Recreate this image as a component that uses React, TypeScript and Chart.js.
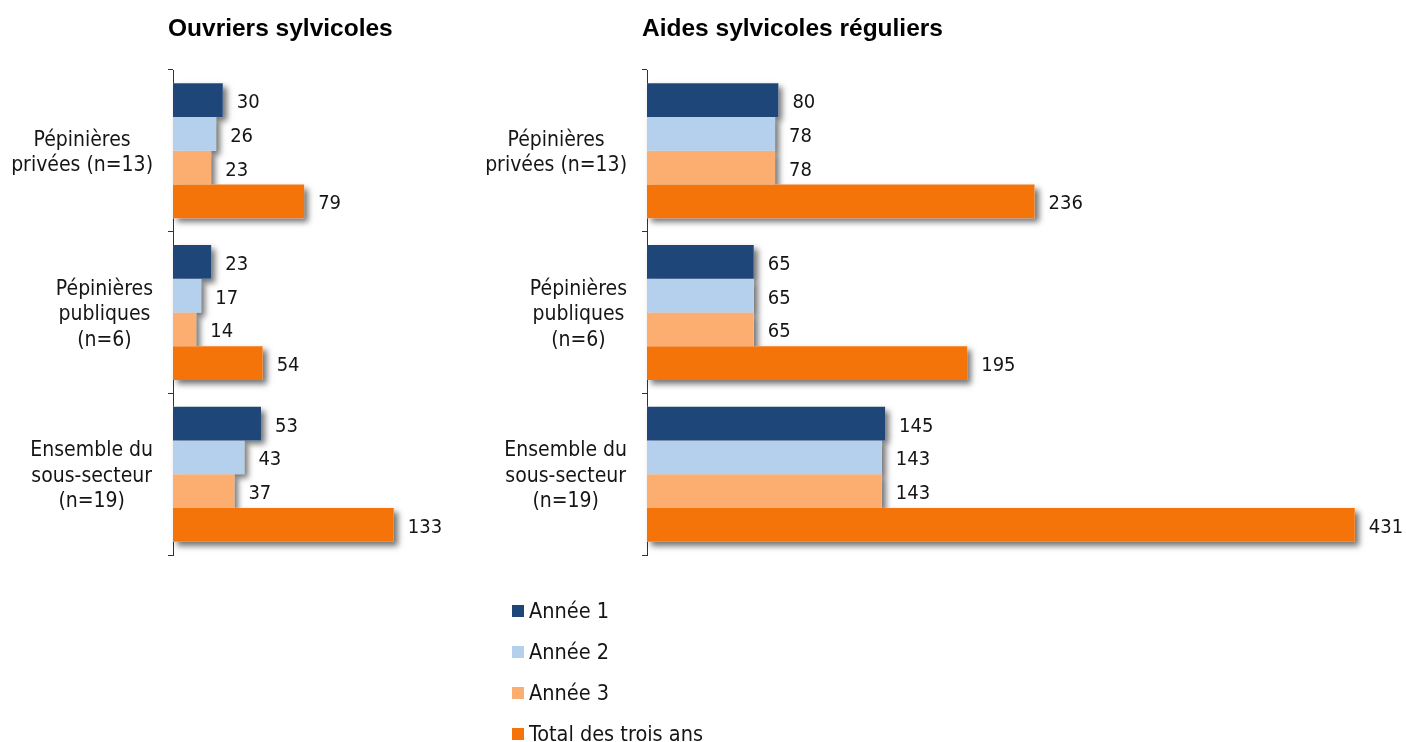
import React, { useEffect, useRef } from "react";
import { Chart, registerables } from "chart.js";

Chart.register(...registerables);

// Category labels (one array entry per line)
const categories: string[][] = [
  ["Pépinières", "privées (n=13)"],
  ["Pépinières", "publiques", "(n=6)"],
  ["Ensemble du", "sous-secteur", "(n=19)"],
];

const seriesNames = ["Année 1", "Année 2", "Année 3", "Total des trois ans"];
const seriesColors = ["#1F4678", "#B4D0EC", "#FCAE70", "#F5740A"];

// Ouvriers sylvicoles
const ouvriersAnnee1 = [30, 23, 53];
const ouvriersAnnee2 = [26, 17, 43];
const ouvriersAnnee3 = [23, 14, 37];
const ouvriersTotal = [79, 54, 133];

// Aides sylvicoles réguliers
const aidesAnnee1 = [80, 65, 145];
const aidesAnnee2 = [78, 65, 143];
const aidesAnnee3 = [78, 65, 143];
const aidesTotal = [236, 195, 431];

const FONT_FAMILY = '"DejaVu Sans Condensed", "DejaVu Sans", sans-serif';
const VALUE_FONT = `20px ${FONT_FAMILY}`;
const CATEGORY_FONT = `21px ${FONT_FAMILY}`;
const LEGEND_FONT = `21.5px ${FONT_FAMILY}`;
const TITLE_FONT = 'bold 24.5px "Liberation Sans", Arial, sans-serif';
const TEXT_COLOR = "#151515";
const AXIS_COLOR = "#333333";

// Draws bar shadows, value labels, category labels and the panel title
const panelPlugin = {
  id: "panelDecor",
  beforeDatasetsDraw(chart: any) {
    const ctx = chart.ctx as CanvasRenderingContext2D;
    ctx.save();
    ctx.shadowColor = "rgba(0,0,0,0.55)";
    ctx.shadowBlur = 6;
    ctx.shadowOffsetX = 4;
    ctx.shadowOffsetY = 4;
    ctx.fillStyle = "#ffffff";
    chart.data.datasets.forEach((_: any, di: number) => {
      const meta = chart.getDatasetMeta(di);
      if (meta.hidden) return;
      meta.data.forEach((bar: any) => {
        const { x, y, base, height } = bar.getProps(["x", "y", "base", "height"], true);
        ctx.fillRect(Math.min(x, base), y - height / 2, Math.abs(x - base), height);
      });
    });
    ctx.restore();
  },
  afterDatasetsDraw(chart: any) {
    const ctx = chart.ctx as CanvasRenderingContext2D;
    ctx.save();
    ctx.font = VALUE_FONT;
    ctx.fillStyle = TEXT_COLOR;
    ctx.textAlign = "left";
    ctx.textBaseline = "alphabetic";
    chart.data.datasets.forEach((ds: any, di: number) => {
      const meta = chart.getDatasetMeta(di);
      if (meta.hidden) return;
      meta.data.forEach((bar: any, i: number) => {
        const { x, y } = bar.getProps(["x", "y"], true);
        ctx.fillText(String(ds.data[i]), x + 14, y + 8);
      });
    });
    ctx.restore();
  },
  afterDraw(chart: any, _args: any, opts: any) {
    const ctx = chart.ctx as CanvasRenderingContext2D;
    const area = chart.chartArea;
    const yScale = chart.scales.y;
    ctx.save();
    // category labels: block right-aligned to the axis, lines centred inside the block
    ctx.font = CATEGORY_FONT;
    ctx.fillStyle = TEXT_COLOR;
    ctx.textAlign = "center";
    ctx.textBaseline = "alphabetic";
    const lineH = 25.5;
    categories.forEach((lines, i) => {
      const cy = yScale.getPixelForValue(i);
      const blockW = Math.max(...lines.map((l) => ctx.measureText(l).width));
      const right = area.left - 20;
      const cx = right - blockW / 2;
      lines.forEach((line, li) => {
        const by = cy + 7.5 + (li - (lines.length - 1) / 2) * lineH;
        ctx.fillText(line, cx, by);
      });
    });
    // panel title
    ctx.font = TITLE_FONT;
    ctx.fillStyle = "#000000";
    ctx.textAlign = "left";
    ctx.fillText(opts.title, area.left - 5, 36);
    ctx.restore();
  },
};

function makeConfig(values: number[][], max: number, title: string, padLeft: number, padRight: number): any {
  return {
    type: "bar",
    data: {
      labels: categories.map((c) => c.join(" ")),
      datasets: values.map((v, i) => ({
        label: seriesNames[i],
        data: v,
        backgroundColor: seriesColors[i],
        borderWidth: 0,
        categoryPercentage: 0.835,
        barPercentage: 1,
      })),
    },
    options: {
      indexAxis: "y",
      responsive: false,
      animation: false,
      events: [],
      layout: { padding: { left: padLeft, right: padRight, top: 70, bottom: 45 } },
      scales: {
        x: { display: false, min: 0, max },
        y: {
          type: "category",
          offset: true,
          grid: {
            display: true,
            drawOnChartArea: false,
            drawTicks: true,
            tickLength: 5,
            offset: true,
            color: AXIS_COLOR,
            lineWidth: 1,
          },
          border: { display: true, color: AXIS_COLOR, width: 1 },
          ticks: { display: false },
          afterFit: (s: any) => {
            s.width = 6;
          },
        },
      },
      plugins: {
        legend: { display: false },
        tooltip: { enabled: false },
        panelDecor: { title },
      },
    },
    plugins: [panelPlugin],
  };
}

type PanelProps = {
  values: number[][];
  max: number;
  title: string;
  left: number;
  width: number;
  padLeft: number;
  padRight: number;
};

function Panel({ values, max, title, left, width, padLeft, padRight }: PanelProps) {
  const ref = useRef<HTMLCanvasElement>(null);
  useEffect(() => {
    const chart = new Chart(ref.current as HTMLCanvasElement, makeConfig(values, max, title, padLeft, padRight));
    return () => chart.destroy();
  }, []);
  return (
    <canvas
      ref={ref}
      width={width}
      height={600}
      style={{ position: "absolute", left, top: 0, width, height: 600 }}
    />
  );
}

export default function App() {
  return (
    <div
      style={{
        position: "fixed",
        left: 0,
        top: 0,
        width: 1406,
        height: 742,
        background: "#ffffff",
        overflow: "hidden",
      }}
    >
      <Panel
        values={[ouvriersAnnee1, ouvriersAnnee2, ouvriersAnnee3, ouvriersTotal]}
        max={150}
        title="Ouvriers sylvicoles"
        left={0}
        width={470}
        padLeft={167}
        padRight={48}
      />
      <Panel
        values={[aidesAnnee1, aidesAnnee2, aidesAnnee3, aidesTotal]}
        max={450}
        title="Aides sylvicoles réguliers"
        left={470}
        width={936}
        padLeft={171}
        padRight={20}
      />
      <div style={{ position: "absolute", left: 512, top: 590 }}>
        {seriesNames.map((name, i) => (
          <div
            key={name}
            style={{
              height: 41,
              display: "flex",
              alignItems: "center",
              font: LEGEND_FONT,
              color: TEXT_COLOR,
              whiteSpace: "nowrap",
            }}
          >
            <span
              style={{
                display: "inline-block",
                width: 12,
                height: 12,
                background: seriesColors[i],
                marginRight: 5,
              }}
            />
            <span>{name}</span>
          </div>
        ))}
      </div>
    </div>
  );
}
